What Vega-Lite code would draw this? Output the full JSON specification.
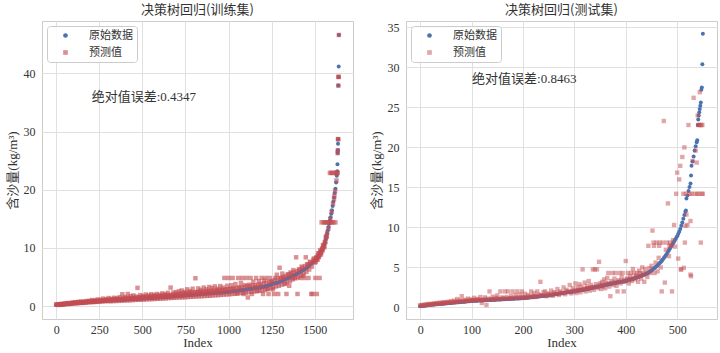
{
"$schema": "https://vega.github.io/schema/vega-lite/v6.json",
"background": "white",
"padding": {"left": 5, "top": 3, "right": 2, "bottom": 0},
"spacing": 15,
"config": {
  "font": "Liberation Serif, Noto Sans CJK SC",
  "view": {"stroke": "#cccccc", "strokeWidth": 1},
  "axis": {"grid": true, "gridColor": "#e0e0e0", "gridWidth": 1, "domain": false, "ticks": false, "format": "d", "labelFont": "Liberation Serif", "labelFontSize": 12, "labelColor": "#333333", "titleFont": "Liberation Serif, Noto Sans CJK SC", "titleFontSize": 13, "titleFontWeight": "normal", "titleColor": "#333333"},
  "title": {"fontSize": 13, "fontWeight": "normal", "color": "#333333", "font": "Noto Sans CJK SC", "offset": 4},
  "legend": {"orient": "top-left", "offset": 5, "fillColor": "rgba(255,255,255,0.85)", "strokeColor": "#cccccc", "cornerRadius": 3, "padding": 4, "symbolOffset": 9, "labelOffset": 18, "rowPadding": 5, "labelFont": "Noto Sans CJK SC", "labelFontSize": 11, "labelColor": "#333333", "symbolSize": 22, "symbolStrokeWidth": 0}
},
"datasets": {
"train": [
{"i":0,"o":0.22,"p":0.30},{"i":8,"o":0.24,"p":0.28},{"i":16,"o":0.26,"p":0.35},{"i":24,"o":0.29,"p":0.33},{"i":32,"o":0.31,"p":0.40},{"i":40,"o":0.33,"p":0.30},{"i":48,"o":0.35,"p":0.45},{"i":56,"o":0.38,"p":0.42},{"i":64,"o":0.40,"p":0.52},{"i":72,"o":0.42,"p":0.40},{"i":80,"o":0.44,"p":0.55},{"i":88,"o":0.47,"p":0.50},{"i":96,"o":0.49,"p":0.62},
{"i":104,"o":0.51,"p":0.58},{"i":112,"o":0.53,"p":0.68},{"i":120,"o":0.54,"p":0.55},{"i":128,"o":0.56,"p":0.74},{"i":136,"o":0.58,"p":0.62},{"i":144,"o":0.60,"p":0.80},{"i":152,"o":0.61,"p":0.66},{"i":160,"o":0.63,"p":0.78},{"i":168,"o":0.65,"p":0.70},{"i":176,"o":0.67,"p":0.88},{"i":184,"o":0.68,"p":0.75},{"i":192,"o":0.70,"p":0.92},
{"i":200,"o":0.72,"p":0.80},{"i":208,"o":0.74,"p":1.05},{"i":216,"o":0.76,"p":0.82},{"i":224,"o":0.78,"p":1.00},{"i":232,"o":0.79,"p":0.90},{"i":240,"o":0.81,"p":1.15},{"i":248,"o":0.83,"p":0.88},{"i":256,"o":0.85,"p":1.10},{"i":264,"o":0.87,"p":0.95},{"i":272,"o":0.89,"p":1.30},{"i":280,"o":0.90,"p":0.98},{"i":288,"o":0.92,"p":1.20},{"i":296,"o":0.94,"p":1.05},
{"i":304,"o":0.96,"p":1.40},{"i":312,"o":0.97,"p":1.02},{"i":320,"o":0.98,"p":1.25},{"i":328,"o":1.00,"p":1.10},{"i":336,"o":1.01,"p":1.45},{"i":344,"o":1.02,"p":1.08},{"i":352,"o":1.04,"p":1.35},{"i":360,"o":1.05,"p":1.20},{"i":368,"o":1.07,"p":1.55},{"i":376,"o":1.08,"p":1.15},{"i":384,"o":1.09,"p":2.05},{"i":392,"o":1.11,"p":1.30},
{"i":400,"o":1.12,"p":1.60},{"i":408,"o":1.13,"p":1.25},{"i":416,"o":1.15,"p":2.10},{"i":424,"o":1.16,"p":1.40},{"i":432,"o":1.18,"p":1.70},{"i":440,"o":1.19,"p":1.28},{"i":448,"o":1.21,"p":1.85},{"i":456,"o":1.22,"p":1.35},{"i":464,"o":1.24,"p":1.65},{"i":472,"o":1.25,"p":3.15},{"i":480,"o":1.26,"p":1.50},{"i":488,"o":1.28,"p":1.90},{"i":496,"o":1.29,"p":1.40},
{"i":504,"o":1.31,"p":1.75},{"i":512,"o":1.32,"p":1.45},{"i":520,"o":1.34,"p":2.00},{"i":528,"o":1.36,"p":1.50},{"i":536,"o":1.37,"p":1.85},{"i":544,"o":1.39,"p":1.60},{"i":552,"o":1.40,"p":2.05},{"i":560,"o":1.42,"p":1.55},{"i":568,"o":1.44,"p":1.90},{"i":576,"o":1.45,"p":1.62},{"i":584,"o":1.47,"p":2.10},{"i":592,"o":1.48,"p":1.58},
{"i":600,"o":1.50,"p":1.95},{"i":608,"o":1.52,"p":1.70},{"i":616,"o":1.54,"p":2.20},{"i":624,"o":1.55,"p":1.65},{"i":632,"o":1.57,"p":2.05},{"i":640,"o":1.59,"p":1.75},{"i":648,"o":1.61,"p":2.30},{"i":656,"o":1.62,"p":1.80},{"i":664,"o":1.64,"p":3.20},{"i":672,"o":1.66,"p":1.85},{"i":680,"o":1.68,"p":2.35},{"i":688,"o":1.69,"p":1.90},{"i":696,"o":1.71,"p":2.40},
{"i":704,"o":1.73,"p":1.80},{"i":712,"o":1.75,"p":2.55},{"i":720,"o":1.77,"p":2.00},{"i":728,"o":1.79,"p":2.70},{"i":736,"o":1.81,"p":1.95},{"i":744,"o":1.83,"p":2.45},{"i":752,"o":1.86,"p":2.10},{"i":760,"o":1.88,"p":2.90},{"i":768,"o":1.90,"p":2.05},{"i":776,"o":1.92,"p":2.60},{"i":784,"o":1.94,"p":2.20},{"i":792,"o":1.96,"p":3.00},
{"i":800,"o":1.98,"p":2.15},{"i":808,"o":2.00,"p":4.80},{"i":816,"o":2.02,"p":2.40},{"i":824,"o":2.03,"p":3.05},{"i":832,"o":2.05,"p":2.25},{"i":840,"o":2.07,"p":2.80},{"i":848,"o":2.09,"p":2.30},{"i":856,"o":2.10,"p":3.20},{"i":864,"o":2.12,"p":2.35},{"i":872,"o":2.14,"p":2.90},{"i":880,"o":2.16,"p":2.40},{"i":888,"o":2.17,"p":3.30},{"i":896,"o":2.19,"p":2.50},
{"i":904,"o":2.21,"p":3.10},{"i":912,"o":2.23,"p":2.45},{"i":920,"o":2.25,"p":3.40},{"i":928,"o":2.27,"p":2.55},{"i":936,"o":2.29,"p":3.00},{"i":944,"o":2.31,"p":2.60},{"i":952,"o":2.33,"p":3.45},{"i":960,"o":2.35,"p":2.65},{"i":968,"o":2.37,"p":3.20},{"i":976,"o":2.39,"p":4.85},{"i":984,"o":2.41,"p":2.80},{"i":992,"o":2.43,"p":3.50},
{"i":1000,"o":2.45,"p":4.85},{"i":1008,"o":2.48,"p":2.90},{"i":1016,"o":2.51,"p":3.60},{"i":1024,"o":2.55,"p":4.85},{"i":1032,"o":2.58,"p":3.00},{"i":1040,"o":2.61,"p":3.80},{"i":1048,"o":2.64,"p":2.20},{"i":1056,"o":2.67,"p":4.85},{"i":1064,"o":2.71,"p":3.20},{"i":1072,"o":2.74,"p":4.00},{"i":1080,"o":2.77,"p":4.85},{"i":1088,"o":2.80,"p":2.10},{"i":1096,"o":2.83,"p":3.60},
{"i":1104,"o":2.87,"p":4.85},{"i":1112,"o":2.90,"p":1.50},{"i":1120,"o":2.94,"p":3.70},{"i":1128,"o":2.98,"p":4.85},{"i":1136,"o":3.01,"p":2.10},{"i":1144,"o":3.05,"p":4.20},{"i":1152,"o":3.08,"p":3.30},{"i":1160,"o":3.12,"p":4.85},{"i":1168,"o":3.16,"p":2.60},{"i":1176,"o":3.19,"p":4.30},{"i":1184,"o":3.23,"p":3.50},{"i":1192,"o":3.26,"p":4.85},
{"i":1200,"o":3.30,"p":2.10},{"i":1208,"o":3.37,"p":4.40},{"i":1216,"o":3.44,"p":4.85},{"i":1224,"o":3.52,"p":3.00},{"i":1232,"o":3.59,"p":2.10},{"i":1240,"o":3.66,"p":4.85},{"i":1248,"o":3.73,"p":4.10},{"i":1256,"o":3.80,"p":2.90},{"i":1264,"o":3.88,"p":2.10},{"i":1272,"o":3.95,"p":4.85},{"i":1280,"o":4.02,"p":5.40},{"i":1288,"o":4.09,"p":2.10},{"i":1296,"o":4.16,"p":6.60},
{"i":1304,"o":4.26,"p":4.85},{"i":1312,"o":4.37,"p":5.60},{"i":1320,"o":4.48,"p":4.85},{"i":1328,"o":4.59,"p":3.80},{"i":1336,"o":4.70,"p":2.10},{"i":1344,"o":4.82,"p":5.50},{"i":1352,"o":4.93,"p":3.50},{"i":1360,"o":5.04,"p":5.80},{"i":1368,"o":5.15,"p":4.85},{"i":1376,"o":5.26,"p":6.20},{"i":1384,"o":5.38,"p":4.85},{"i":1392,"o":5.49,"p":8.40},
{"i":1400,"o":5.60,"p":2.10},{"i":1408,"o":5.74,"p":6.30},{"i":1416,"o":5.89,"p":4.85},{"i":1424,"o":6.03,"p":6.80},{"i":1432,"o":6.18,"p":5.20},{"i":1440,"o":6.32,"p":4.85},{"i":1448,"o":6.46,"p":8.40},{"i":1456,"o":6.66,"p":7.20},{"i":1464,"o":6.86,"p":4.85},{"i":1472,"o":7.07,"p":7.60},{"i":1480,"o":7.28,"p":2.10},{"i":1488,"o":7.49,"p":2.10},{"i":1496,"o":7.70,"p":8.20},
{"i":1500,"o":7.80,"p":7.50},{"i":1504,"o":7.96,"p":4.85},{"i":1508,"o":8.12,"p":8.30},{"i":1512,"o":8.28,"p":2.10},{"i":1516,"o":8.44,"p":8.00},{"i":1520,"o":8.60,"p":9.10},{"i":1524,"o":8.78,"p":8.50},{"i":1528,"o":8.96,"p":4.85},{"i":1532,"o":9.14,"p":9.60},{"i":1536,"o":9.32,"p":8.90},
{"i":1540,"o":9.50,"p":14.4},{"i":1544,"o":9.78,"p":9.90},{"i":1548,"o":10.06,"p":10.5},{"i":1552,"o":10.36,"p":14.4},{"i":1556,"o":10.68,"p":10.3},{"i":1560,"o":11.00,"p":14.4},{"i":1564,"o":11.48,"p":11.8},{"i":1568,"o":11.96,"p":14.4},{"i":1572,"o":12.48,"p":12.6},{"i":1576,"o":13.04,"p":14.4},{"i":1580,"o":13.60,"p":13.4},{"i":1584,"o":14.16,"p":14.4},{"i":1588,"o":14.72,"p":22.9},{"i":1592,"o":15.30,"p":14.4},{"i":1596,"o":15.90,"p":22.9},
{"i":1600,"o":16.50,"p":14.4},{"i":1604,"o":17.22,"p":22.9},{"i":1608,"o":17.94,"p":14.4},{"i":1612,"o":18.68,"p":18.4},{"i":1616,"o":19.44,"p":22.9},{"i":1620,"o":20.20,"p":14.4},{"i":1624,"o":21.24,"p":22.9},{"i":1628,"o":22.40,"p":22.9},{"i":1631,"o":23.20,"p":22.9},{"i":1632,"o":24.40,"p":22.9},
{"i":1633,"o":26.30,"p":26.3},{"i":1634,"o":26.80,"p":26.8},{"i":1635,"o":27.90,"p":28.7},{"i":1636,"o":28.70,"p":28.7},{"i":1637,"o":37.90,"p":37.9},{"i":1638,"o":39.40,"p":39.4},{"i":1639,"o":41.20,"p":39.4},{"i":1640,"o":46.60,"p":46.6},
{"i":1590,"p":15.0},{"i":1598,"p":16.2},{"i":1606,"p":17.6},{"i":1614,"p":19.0},{"i":1618,"p":19.8},{"i":1626,"p":21.6},
{"i":4,"p":0.28},{"i":12,"p":0.22},{"i":20,"p":0.32},{"i":28,"p":0.27},{"i":36,"p":0.36},{"i":44,"p":0.31},{"i":52,"p":0.40},{"i":60,"p":0.35},{"i":68,"p":0.45},{"i":76,"p":0.40},{"i":84,"p":0.50},{"i":92,"p":0.44},
{"i":100,"p":0.55},{"i":108,"p":0.48},{"i":116,"p":0.58},{"i":124,"p":0.52},{"i":132,"p":0.63},{"i":140,"p":0.55},{"i":148,"p":0.66},{"i":156,"p":0.58},{"i":164,"p":0.70},{"i":172,"p":0.62},{"i":180,"p":0.74},{"i":188,"p":0.65},{"i":196,"p":0.77},
{"i":204,"p":0.68},{"i":212,"p":0.82},{"i":220,"p":0.72},{"i":228,"p":0.86},{"i":236,"p":0.75},{"i":244,"p":0.90},{"i":252,"p":0.78},{"i":260,"p":0.94},{"i":268,"p":0.82},{"i":276,"p":0.98},{"i":284,"p":0.85},{"i":292,"p":1.02},
{"i":300,"p":0.88},{"i":308,"p":1.10},{"i":316,"p":0.85},{"i":324,"p":1.12},{"i":332,"p":0.88},{"i":340,"p":1.18},{"i":348,"p":0.90},{"i":356,"p":1.22},{"i":364,"p":0.92},{"i":372,"p":1.25},{"i":380,"p":0.95},{"i":388,"p":1.30},{"i":396,"p":0.98},
{"i":404,"p":1.32},{"i":412,"p":1.00},{"i":420,"p":1.35},{"i":428,"p":1.02},{"i":436,"p":1.40},{"i":444,"p":1.05},{"i":452,"p":1.42},{"i":460,"p":1.08},{"i":468,"p":1.45},{"i":476,"p":1.10},{"i":484,"p":1.50},{"i":492,"p":1.12},
{"i":500,"p":1.55},{"i":508,"p":1.15},{"i":516,"p":1.58},{"i":524,"p":1.18},{"i":532,"p":1.60},{"i":540,"p":1.20},{"i":548,"p":1.65},{"i":556,"p":1.22},{"i":564,"p":1.70},{"i":572,"p":1.25},{"i":580,"p":1.72},{"i":588,"p":1.28},{"i":596,"p":1.75},
{"i":604,"p":1.30},{"i":612,"p":1.80},{"i":620,"p":1.32},{"i":628,"p":1.85},{"i":636,"p":1.35},{"i":644,"p":1.88},{"i":652,"p":1.40},{"i":660,"p":1.92},{"i":668,"p":1.42},{"i":676,"p":1.98},{"i":684,"p":1.45},{"i":692,"p":2.02},
{"i":700,"p":1.48},{"i":708,"p":2.10},{"i":716,"p":1.50},{"i":724,"p":2.15},{"i":732,"p":1.52},{"i":740,"p":2.20},{"i":748,"p":1.55},{"i":756,"p":2.25},{"i":764,"p":1.58},{"i":772,"p":2.30},{"i":780,"p":1.62},{"i":788,"p":2.35},{"i":796,"p":1.65},
{"i":804,"p":2.40},{"i":812,"p":1.68},{"i":820,"p":2.45},{"i":828,"p":1.70},{"i":836,"p":2.48},{"i":844,"p":1.72},{"i":852,"p":2.50},{"i":860,"p":1.75},{"i":868,"p":2.55},{"i":876,"p":1.78},{"i":884,"p":2.60},{"i":892,"p":1.80},
{"i":900,"p":2.62},{"i":908,"p":1.85},{"i":916,"p":2.68},{"i":924,"p":1.88},{"i":932,"p":2.72},{"i":940,"p":1.90},{"i":948,"p":2.78},{"i":956,"p":1.95},{"i":964,"p":2.80},{"i":972,"p":2.00},{"i":980,"p":2.85},{"i":988,"p":2.02},{"i":996,"p":2.90},
{"i":1004,"p":2.05},{"i":1012,"p":3.00},{"i":1020,"p":2.10},{"i":1028,"p":3.05},{"i":1036,"p":2.15},{"i":1044,"p":3.10},{"i":1052,"p":2.20},{"i":1060,"p":3.20},{"i":1068,"p":2.25},{"i":1076,"p":3.25},{"i":1084,"p":2.30},{"i":1092,"p":3.30},
{"i":1100,"p":2.35},{"i":1108,"p":3.40},{"i":1116,"p":2.40},{"i":1124,"p":3.45},{"i":1132,"p":2.50},{"i":1140,"p":3.55},{"i":1148,"p":2.55},{"i":1156,"p":3.60},{"i":1164,"p":2.60},{"i":1172,"p":3.70},{"i":1180,"p":2.65},{"i":1188,"p":3.80},{"i":1196,"p":2.70},
{"i":1204,"p":3.90},{"i":1212,"p":2.80},{"i":1220,"p":4.00},{"i":1228,"p":2.95},{"i":1236,"p":4.20},{"i":1244,"p":3.10},{"i":1252,"p":4.30},{"i":1260,"p":3.20},{"i":1268,"p":4.50},{"i":1276,"p":3.40},{"i":1284,"p":4.60},{"i":1292,"p":3.50},
{"i":1300,"p":4.80},{"i":1308,"p":3.70},{"i":1316,"p":5.00},{"i":1324,"p":3.90},{"i":1332,"p":5.20},{"i":1340,"p":4.10},{"i":1348,"p":5.40},{"i":1356,"p":4.30},{"i":1364,"p":5.60},{"i":1372,"p":4.60},{"i":1380,"p":5.80},{"i":1388,"p":4.80},{"i":1396,"p":6.00},
{"i":1404,"p":5.00},{"i":1412,"p":6.30},{"i":1420,"p":5.30},{"i":1428,"p":6.60},{"i":1436,"p":5.60},{"i":1444,"p":6.90},{"i":1452,"p":5.90},{"i":1460,"p":7.20},{"i":1468,"p":6.30},{"i":1476,"p":7.60},{"i":1484,"p":6.80},{"i":1492,"p":8.00},
{"i":1502,"p":7.90},{"i":1506,"p":7.60},{"i":1510,"p":8.40},{"i":1514,"p":8.00},{"i":1518,"p":8.70},{"i":1522,"p":8.40},{"i":1526,"p":9.10},{"i":1530,"p":8.80},{"i":1534,"p":9.40},{"i":1538,"p":9.20},{"i":1542,"p":9.80},{"i":1546,"p":9.60},{"i":1550,"p":10.4},{"i":1554,"p":10.1},{"i":1558,"p":11.0},{"i":1562,"p":11.0},{"i":1566,"p":12.0},{"i":1570,"p":11.9}
],
"test": [
{"i":0,"o":0.15,"p":0.25},{"i":3,"o":0.17,"p":0.30},{"i":6,"o":0.20,"p":0.28},{"i":9,"o":0.22,"p":0.35},{"i":12,"o":0.25,"p":0.33},{"i":15,"o":0.27,"p":0.42},{"i":18,"o":0.29,"p":0.38},{"i":21,"o":0.32,"p":0.45},{"i":24,"o":0.34,"p":0.40},{"i":27,"o":0.36,"p":0.50},{"i":30,"o":0.38,"p":0.46},{"i":33,"o":0.40,"p":0.55},{"i":36,"o":0.42,"p":0.48},{"i":39,"o":0.43,"p":0.60},{"i":42,"o":0.45,"p":0.52},{"i":45,"o":0.47,"p":0.65},{"i":48,"o":0.49,"p":0.58},
{"i":51,"o":0.51,"p":0.62},{"i":54,"o":0.52,"p":0.70},{"i":57,"o":0.54,"p":0.60},{"i":60,"o":0.56,"p":0.78},{"i":63,"o":0.58,"p":0.66},{"i":66,"o":0.60,"p":0.85},{"i":69,"o":0.61,"p":0.70},{"i":72,"o":0.63,"p":1.05},{"i":75,"o":0.65,"p":0.75},{"i":78,"o":0.67,"p":0.88},{"i":81,"o":0.69,"p":1.40},{"i":84,"o":0.70,"p":0.80},{"i":87,"o":0.72,"p":0.95},{"i":90,"o":0.74,"p":0.82},{"i":93,"o":0.76,"p":1.10},{"i":96,"o":0.78,"p":0.85},{"i":99,"o":0.79,"p":1.00},
{"i":102,"o":0.81,"p":0.90},{"i":105,"o":0.82,"p":1.20},{"i":108,"o":0.83,"p":0.92},{"i":111,"o":0.84,"p":1.05},{"i":114,"o":0.85,"p":0.95},{"i":117,"o":0.86,"p":1.30},{"i":120,"o":0.87,"p":0.55},{"i":123,"o":0.88,"p":1.00},{"i":126,"o":0.89,"p":1.25},{"i":129,"o":0.90,"p":0.30},{"i":132,"o":0.92,"p":1.10},{"i":135,"o":0.93,"p":2.00},{"i":138,"o":0.94,"p":1.05},{"i":141,"o":0.95,"p":1.35},{"i":144,"o":0.96,"p":1.00},{"i":147,"o":0.97,"p":1.20},
{"i":150,"o":0.98,"p":1.50},{"i":153,"o":0.99,"p":1.05},{"i":156,"o":1.00,"p":2.00},{"i":159,"o":1.01,"p":1.25},{"i":162,"o":1.02,"p":1.10},{"i":165,"o":1.03,"p":2.00},{"i":168,"o":1.04,"p":1.30},{"i":171,"o":1.05,"p":2.00},{"i":174,"o":1.06,"p":1.15},{"i":177,"o":1.07,"p":1.45},{"i":180,"o":1.08,"p":2.00},{"i":183,"o":1.09,"p":1.20},{"i":186,"o":1.10,"p":1.55},{"i":189,"o":1.11,"p":2.00},{"i":192,"o":1.12,"p":1.25},{"i":195,"o":1.13,"p":1.60},{"i":198,"o":1.14,"p":2.00},
{"i":201,"o":1.16,"p":1.30},{"i":204,"o":1.18,"p":1.70},{"i":207,"o":1.20,"p":1.20},{"i":210,"o":1.22,"p":1.55},{"i":213,"o":1.24,"p":1.35},{"i":216,"o":1.26,"p":2.00},{"i":219,"o":1.28,"p":1.45},{"i":222,"o":1.30,"p":1.80},{"i":225,"o":1.33,"p":1.30},{"i":228,"o":1.35,"p":2.00},{"i":231,"o":1.37,"p":1.60},{"i":234,"o":1.39,"p":3.20},{"i":237,"o":1.41,"p":1.50},{"i":240,"o":1.43,"p":1.90},{"i":243,"o":1.45,"p":2.00},{"i":246,"o":1.47,"p":1.40},{"i":249,"o":1.49,"p":1.75},
{"i":252,"o":1.52,"p":1.60},{"i":255,"o":1.55,"p":2.10},{"i":258,"o":1.58,"p":1.45},{"i":261,"o":1.61,"p":1.90},{"i":264,"o":1.64,"p":1.70},{"i":267,"o":1.67,"p":2.30},{"i":270,"o":1.70,"p":1.55},{"i":273,"o":1.73,"p":2.00},{"i":276,"o":1.76,"p":1.80},{"i":279,"o":1.79,"p":2.50},{"i":282,"o":1.82,"p":1.65},{"i":285,"o":1.85,"p":2.20},{"i":288,"o":1.88,"p":2.00},{"i":291,"o":1.91,"p":2.80},{"i":294,"o":1.94,"p":1.75},{"i":297,"o":1.97,"p":2.40},
{"i":300,"o":2.00,"p":2.10},{"i":302,"o":2.02,"p":3.00},{"i":304,"o":2.05,"p":1.80},{"i":306,"o":2.07,"p":2.50},{"i":308,"o":2.10,"p":2.20},{"i":310,"o":2.12,"p":2.90},{"i":312,"o":2.14,"p":1.90},{"i":314,"o":2.17,"p":2.60},{"i":316,"o":2.19,"p":4.75},{"i":318,"o":2.22,"p":2.30},{"i":320,"o":2.24,"p":3.10},{"i":322,"o":2.26,"p":2.00},{"i":324,"o":2.29,"p":2.70},
{"i":326,"o":2.31,"p":2.40},{"i":328,"o":2.34,"p":3.30},{"i":330,"o":2.37,"p":2.10},{"i":332,"o":2.40,"p":2.80},{"i":334,"o":2.43,"p":2.50},{"i":336,"o":2.45,"p":4.75},{"i":338,"o":2.48,"p":2.20},{"i":340,"o":2.51,"p":4.75},{"i":342,"o":2.54,"p":2.90},{"i":344,"o":2.57,"p":4.75},{"i":346,"o":2.59,"p":2.40},{"i":348,"o":2.62,"p":5.70},
{"i":350,"o":2.65,"p":3.00},{"i":352,"o":2.68,"p":2.30},{"i":354,"o":2.71,"p":3.20},{"i":356,"o":2.73,"p":2.60},{"i":358,"o":2.76,"p":3.50},{"i":360,"o":2.79,"p":2.40},{"i":362,"o":2.82,"p":3.10},{"i":364,"o":2.85,"p":3.70},{"i":366,"o":2.87,"p":4.30},{"i":368,"o":2.90,"p":2.60},{"i":370,"o":2.93,"p":1.40},{"i":372,"o":2.96,"p":3.30},{"i":374,"o":2.99,"p":4.30},
{"i":376,"o":3.01,"p":2.80},{"i":378,"o":3.04,"p":3.60},{"i":380,"o":3.06,"p":4.30},{"i":382,"o":3.08,"p":2.70},{"i":384,"o":3.11,"p":2.00},{"i":386,"o":3.13,"p":3.40},{"i":388,"o":3.16,"p":4.30},{"i":390,"o":3.18,"p":3.00},{"i":392,"o":3.20,"p":3.80},{"i":394,"o":3.23,"p":4.30},{"i":396,"o":3.25,"p":2.00},{"i":398,"o":3.28,"p":3.20},
{"i":400,"o":3.30,"p":5.80},{"i":402,"o":3.34,"p":3.60},{"i":404,"o":3.38,"p":4.30},{"i":406,"o":3.42,"p":3.00},{"i":408,"o":3.46,"p":3.90},{"i":410,"o":3.50,"p":4.30},{"i":412,"o":3.54,"p":3.30},{"i":414,"o":3.58,"p":4.80},{"i":416,"o":3.62,"p":4.30},{"i":418,"o":3.66,"p":3.50},{"i":420,"o":3.70,"p":4.00},{"i":422,"o":3.74,"p":4.30},{"i":424,"o":3.78,"p":3.20},
{"i":426,"o":3.83,"p":4.60},{"i":428,"o":3.88,"p":4.30},{"i":430,"o":3.93,"p":3.60},{"i":432,"o":3.99,"p":5.00},{"i":434,"o":4.04,"p":4.30},{"i":436,"o":4.09,"p":3.20},{"i":438,"o":4.15,"p":4.80},{"i":440,"o":4.20,"p":4.30},{"i":442,"o":4.28,"p":3.80},{"i":444,"o":4.36,"p":7.70},{"i":446,"o":4.44,"p":4.90},{"i":448,"o":4.52,"p":4.30},
{"i":450,"o":4.60,"p":5.20},{"i":452,"o":4.71,"p":9.60},{"i":454,"o":4.82,"p":8.10},{"i":456,"o":4.93,"p":4.30},{"i":458,"o":5.04,"p":5.60},{"i":460,"o":5.15,"p":8.10},{"i":462,"o":5.28,"p":4.50},{"i":464,"o":5.41,"p":6.20},{"i":466,"o":5.54,"p":8.10},{"i":468,"o":5.67,"p":5.00},
{"i":470,"o":5.80,"p":2.00},{"i":472,"o":5.98,"p":8.10},{"i":474,"o":6.16,"p":23.3},{"i":476,"o":6.34,"p":3.10},{"i":478,"o":6.52,"p":7.20},{"i":480,"o":6.70,"p":8.10},{"i":482,"o":6.92,"p":13.0},{"i":484,"o":7.14,"p":6.40},{"i":486,"o":7.36,"p":8.10},{"i":488,"o":7.58,"p":7.70},
{"i":490,"o":7.80,"p":2.00},{"i":492,"o":8.02,"p":8.40},{"i":494,"o":8.24,"p":10.3},{"i":496,"o":8.46,"p":7.60},{"i":498,"o":8.68,"p":14.2},{"i":500,"o":8.90,"p":16.85},{"i":502,"o":9.18,"p":6.10},{"i":504,"o":9.46,"p":16.0},{"i":506,"o":9.80,"p":17.7},{"i":508,"o":10.20,"p":4.75},
{"i":510,"o":10.60,"p":18.8},{"i":512,"o":11.08,"p":14.2},{"i":514,"o":11.56,"p":20.0},{"i":516,"o":11.95,"p":10.2},{"i":517,"o":12.10,"p":14.2},{"i":518,"o":13.60,"p":11.6},{"i":520,"o":14.00,"p":10.3},{"i":522,"o":14.55,"p":22.8},{"i":524,"o":15.05,"p":14.2},{"i":526,"o":15.50,"p":10.8},
{"i":527,"o":16.50,"p":3.9},{"i":528,"o":17.70,"p":14.2},{"i":530,"o":18.25,"p":18.3},{"i":532,"o":18.85,"p":26.2},{"i":534,"o":19.60,"p":14.2},{"i":536,"o":20.15,"p":19.6},{"i":538,"o":20.65,"p":18.1},{"i":539,"o":20.90,"p":14.2},
{"i":540,"o":22.80,"p":24.0},{"i":541,"o":23.50,"p":22.8},{"i":542,"o":24.00,"p":14.2},{"i":543,"o":24.40,"p":22.8},{"i":544,"o":24.80,"p":26.9},{"i":545,"o":25.20,"p":22.8},{"i":546,"o":25.60,"p":8.1},{"i":547,"o":27.20,"p":22.8},{"i":548,"o":27.50,"p":14.2},{"i":549,"o":30.40,"p":22.8},{"i":550,"o":34.20,"p":14.2},
{"i":507,"p":4.75},{"i":513,"p":4.95},{"i":515,"p":8.1},{"i":526,"p":4.1},{"i":455,"p":7.7},{"i":465,"p":7.7},{"i":485,"p":7.7},
{"i":1,"p":0.20},{"i":7,"p":0.24},{"i":13,"p":0.30},{"i":19,"p":0.33},{"i":25,"p":0.40},{"i":31,"p":0.42},{"i":37,"p":0.45},{"i":43,"p":0.50},{"i":49,"p":0.53},{"i":55,"p":0.58},{"i":61,"p":0.60},{"i":67,"p":0.66},{"i":73,"p":0.68},{"i":79,"p":0.74},{"i":85,"p":0.75},{"i":91,"p":0.80},{"i":97,"p":0.82},
{"i":103,"p":0.88},{"i":109,"p":0.87},{"i":115,"p":0.92},{"i":121,"p":0.90},{"i":127,"p":0.96},{"i":133,"p":0.95},{"i":139,"p":1.02},{"i":145,"p":1.00},{"i":151,"p":1.08},{"i":157,"p":1.03},{"i":163,"p":1.12},{"i":169,"p":1.08},{"i":175,"p":1.15},{"i":181,"p":1.12},{"i":187,"p":1.20},{"i":193,"p":1.16},{"i":199,"p":1.25},
{"i":205,"p":1.22},{"i":211,"p":1.32},{"i":217,"p":1.30},{"i":223,"p":1.40},{"i":229,"p":1.38},{"i":235,"p":1.50},{"i":241,"p":1.48},{"i":247,"p":1.60},{"i":253,"p":1.55},{"i":259,"p":1.70},{"i":265,"p":1.68},{"i":271,"p":1.82},{"i":277,"p":1.80},{"i":283,"p":1.95},{"i":289,"p":1.92},{"i":295,"p":2.05},
{"i":301,"p":2.05},{"i":307,"p":2.15},{"i":313,"p":2.20},{"i":319,"p":2.30},{"i":325,"p":2.40},{"i":331,"p":2.45},{"i":337,"p":2.55},{"i":343,"p":2.60},{"i":349,"p":2.75},{"i":355,"p":2.80},{"i":361,"p":2.90},{"i":367,"p":3.00},{"i":373,"p":3.05},{"i":379,"p":3.15},{"i":385,"p":3.20},{"i":391,"p":3.30},{"i":397,"p":3.40},{"i":403,"p":3.50},{"i":409,"p":3.55},{"i":415,"p":3.70},{"i":421,"p":3.80},{"i":427,"p":3.95},{"i":433,"p":4.10}
]
},
"hconcat": [
{
  "width": 311, "height": 298,
  "title": "决策树回归(训练集)",
  "data": {"name": "train"},
  "layer": [
    {"mark": {"type": "point", "filled": true, "size": 16},
     "encoding": {
       "x": {"field": "i", "type": "quantitative", "scale": {"domain": [-82, 1722], "nice": false, "zero": false}, "axis": {"title": "Index", "values": [0,250,500,750,1000,1250,1500], "labelPadding": 5, "titlePadding": 1}},
       "y": {"field": "o", "type": "quantitative", "scale": {"domain": [-2.2, 49], "nice": false, "zero": false}, "axis": {"title": "含沙量(kg/m³)", "values": [0,10,20,30,40], "labelPadding": 7, "titlePadding": 4}},
       "color": {"datum": "原始数据", "type": "nominal", "scale": {"domain": ["原始数据","预测值"], "range": ["#4C72B0","#C44E52"]}, "legend": {"title": null}},
       "shape": {"datum": "原始数据", "type": "nominal", "scale": {"domain": ["原始数据","预测值"], "range": ["circle","square"]}, "legend": {"title": null}},
       "opacity": {"datum": "原始数据", "type": "nominal", "scale": {"domain": ["原始数据","预测值"], "range": [1, 0.62]}, "legend": {"title": null}}
     }},
    {"mark": {"type": "point", "filled": true, "size": 20},
     "encoding": {
       "x": {"field": "i", "type": "quantitative"},
       "y": {"field": "p", "type": "quantitative"},
       "color": {"datum": "预测值", "type": "nominal"},
       "shape": {"datum": "预测值", "type": "nominal"},
       "opacity": {"datum": "预测值", "type": "nominal"}
     }},
    {"data": {"values": [{}]},
     "mark": {"type": "text", "align": "left", "baseline": "middle", "fontSize": 13, "color": "#333333", "font": "Liberation Serif, Noto Sans CJK SC"},
     "encoding": {"x": {"datum": 206}, "y": {"datum": 35.9}, "text": {"value": "绝对值误差:0.4347"}}}
  ]
},
{
  "width": 311, "height": 298,
  "title": "决策树回归(测试集)",
  "data": {"name": "test"},
  "layer": [
    {"mark": {"type": "point", "filled": true, "size": 16},
     "encoding": {
       "x": {"field": "i", "type": "quantitative", "scale": {"domain": [-27.5, 577.5], "nice": false, "zero": false}, "axis": {"title": "Index", "values": [0,100,200,300,400,500], "labelPadding": 5, "titlePadding": 1}},
       "y": {"field": "o", "type": "quantitative", "scale": {"domain": [-1.45, 35.8], "nice": false, "zero": false}, "axis": {"title": "含沙量(kg/m³)", "values": [0,5,10,15,20,25,30,35], "labelPadding": 7, "titlePadding": 4}},
       "color": {"datum": "原始数据", "type": "nominal", "scale": {"domain": ["原始数据","预测值"], "range": ["#4C72B0","#C44E52"]}, "legend": {"title": null}},
       "shape": {"datum": "原始数据", "type": "nominal", "scale": {"domain": ["原始数据","预测值"], "range": ["circle","square"]}, "legend": {"title": null}},
       "opacity": {"datum": "原始数据", "type": "nominal", "scale": {"domain": ["原始数据","预测值"], "range": [1, 0.5]}, "legend": {"title": null}}
     }},
    {"mark": {"type": "point", "filled": true, "size": 19},
     "encoding": {
       "x": {"field": "i", "type": "quantitative"},
       "y": {"field": "p", "type": "quantitative"},
       "color": {"datum": "预测值", "type": "nominal"},
       "shape": {"datum": "预测值", "type": "nominal"},
       "opacity": {"datum": "预测值", "type": "nominal"}
     }},
    {"data": {"values": [{}]},
     "mark": {"type": "text", "align": "left", "baseline": "middle", "fontSize": 13, "color": "#333333", "font": "Liberation Serif, Noto Sans CJK SC"},
     "encoding": {"x": {"datum": 101}, "y": {"datum": 28.6}, "text": {"value": "绝对值误差:0.8463"}}}
  ]
}
],
"resolve": {"scale": {"color": "independent", "shape": "independent", "opacity": "independent"}, "legend": {"color": "independent", "shape": "independent", "opacity": "independent"}}
}
